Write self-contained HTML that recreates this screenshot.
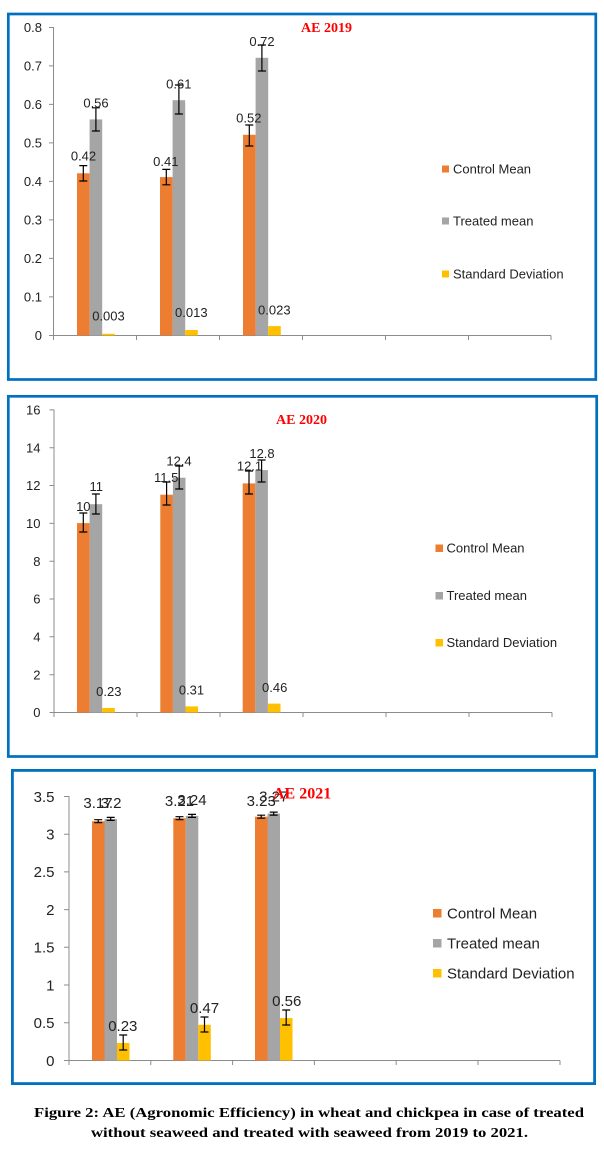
<!DOCTYPE html>
<html>
<head>
<meta charset="utf-8">
<style>
html,body{margin:0;padding:0;background:#fff;}
svg{display:block;}
.t{font-family:"Liberation Sans",sans-serif;fill:#222;}
.ttl{font-family:"Liberation Serif",serif;font-weight:bold;fill:#FF0000;}
.cap{font-family:"Liberation Serif",serif;font-weight:bold;fill:#000;font-size:14px;}
.ax{stroke:#8c8c8c;stroke-width:1;fill:none;}
.eb{stroke:#000;stroke-width:1.2;fill:none;}
</style>
</head>
<body>
<svg width="604" height="1151" viewBox="0 0 604 1151" xmlns="http://www.w3.org/2000/svg">
<rect x="0" y="0" width="604" height="1151" fill="#fff"/>

<!-- ================= CHART 1 ================= -->
<rect x="8.3" y="14" width="587.5" height="365.5" fill="none" stroke="#0070C0" stroke-width="2.7"/>
<!-- axes -->
<path class="ax" d="M53.5 27 V335.5 H551 M49 27.5 H53.5 M49 65.9 H53.5 M49 104.4 H53.5 M49 142.9 H53.5 M49 181.4 H53.5 M49 219.9 H53.5 M49 258.4 H53.5 M49 296.9 H53.5 M49 335.5 H53.5 M53.5 335.5 V340 M136.5 335.5 V340 M219.5 335.5 V340 M302.5 335.5 V340 M385.5 335.5 V340 M468.5 335.5 V340 M551 335.5 V340"/>
<g class="t" font-size="13" text-anchor="end">
<text x="42" y="32">0.8</text>
<text x="42" y="70.4">0.7</text>
<text x="42" y="108.9">0.6</text>
<text x="42" y="147.4">0.5</text>
<text x="42" y="185.9">0.4</text>
<text x="42" y="224.4">0.3</text>
<text x="42" y="262.9">0.2</text>
<text x="42" y="301.4">0.1</text>
<text x="42" y="340">0</text>
</g>
<!-- bars -->
<rect x="77" y="173.3" width="12.6" height="162.2" fill="#ED7D31"/>
<rect x="89.6" y="119.4" width="12.6" height="216.1" fill="#A5A5A5"/>
<rect x="102.2" y="333.8" width="12.6" height="1.7" fill="#FFC000"/>
<rect x="160" y="177.1" width="12.6" height="158.4" fill="#ED7D31"/>
<rect x="172.6" y="100.2" width="12.6" height="235.3" fill="#A5A5A5"/>
<rect x="185.2" y="330" width="12.6" height="5.5" fill="#FFC000"/>
<rect x="243" y="134.8" width="12.6" height="200.7" fill="#ED7D31"/>
<rect x="255.6" y="57.8" width="12.6" height="277.7" fill="#A5A5A5"/>
<rect x="268.2" y="326.1" width="12.6" height="9.4" fill="#FFC000"/>
<!-- error bars -->
<path class="eb" d="M83.3 165.6 V181 M79.3 165.6 H87.3 M79.3 181 H87.3
M95.9 107.8 V131 M91.9 107.8 H99.9 M91.9 131 H99.9
M166.3 169.4 V184.8 M162.3 169.4 H170.3 M162.3 184.8 H170.3
M178.9 85 V114 M174.9 85 H182.9 M174.9 114 H182.9
M249.3 125 V146 M245.3 125 H253.3 M245.3 146 H253.3
M261.9 45 V71 M257.9 45 H265.9 M257.9 71 H265.9"/>
<!-- data labels -->
<g class="t" font-size="13" text-anchor="middle">
<text x="83.5" y="160.5">0.42</text>
<text x="96" y="107.5">0.56</text>
<text x="108.5" y="320.5">0.003</text>
<text x="165.8" y="166.2">0.41</text>
<text x="178.8" y="88.5">0.61</text>
<text x="191.3" y="317.2">0.013</text>
<text x="248.8" y="122.5">0.52</text>
<text x="262" y="45.8">0.72</text>
<text x="274.3" y="314.5">0.023</text>
</g>
<text class="ttl" x="301" y="32" font-size="14">AE 2019</text>
<!-- legend -->
<rect x="442" y="165.5" width="7" height="7" fill="#ED7D31"/>
<rect x="442" y="217.5" width="7" height="7" fill="#A5A5A5"/>
<rect x="442" y="270.5" width="7" height="7" fill="#FFC000"/>
<g class="t" font-size="13">
<text x="453" y="173.5">Control Mean</text>
<text x="453" y="225.5">Treated mean</text>
<text x="453" y="278.5">Standard Deviation</text>
</g>

<!-- ================= CHART 2 ================= -->
<rect x="8.3" y="396.3" width="588.4" height="360.2" fill="none" stroke="#0070C0" stroke-width="2.7"/>
<path class="ax" d="M54 409.6 V712.5 H552 M49.5 409.9 H54 M49.5 447.7 H54 M49.5 485.5 H54 M49.5 523.4 H54 M49.5 561.2 H54 M49.5 599 H54 M49.5 636.8 H54 M49.5 674.7 H54 M49.5 712.5 H54 M54 712.5 V717 M137 712.5 V717 M220 712.5 V717 M303 712.5 V717 M386 712.5 V717 M469 712.5 V717 M552 712.5 V717"/>
<g class="t" font-size="13" text-anchor="end">
<text x="40.5" y="414.6">16</text>
<text x="40.5" y="452.4">14</text>
<text x="40.5" y="490.2">12</text>
<text x="40.5" y="528.1">10</text>
<text x="40.5" y="565.9">8</text>
<text x="40.5" y="603.7">6</text>
<text x="40.5" y="641.5">4</text>
<text x="40.5" y="679.4">2</text>
<text x="40.5" y="717.2">0</text>
</g>
<rect x="77" y="523.1" width="12.6" height="189.4" fill="#ED7D31"/>
<rect x="89.6" y="504.2" width="12.6" height="208.3" fill="#A5A5A5"/>
<rect x="102.2" y="708" width="12.6" height="4.5" fill="#FFC000"/>
<rect x="160.3" y="494.7" width="12.6" height="217.8" fill="#ED7D31"/>
<rect x="172.9" y="477.7" width="12.6" height="234.8" fill="#A5A5A5"/>
<rect x="185.5" y="706.4" width="12.6" height="6.1" fill="#FFC000"/>
<rect x="242.7" y="483.4" width="12.6" height="229.1" fill="#ED7D31"/>
<rect x="255.3" y="470.1" width="12.6" height="242.4" fill="#A5A5A5"/>
<rect x="267.9" y="703.6" width="12.6" height="8.9" fill="#FFC000"/>
<path class="eb" d="M83.3 513 V532 M79.3 513 H87.3 M79.3 532 H87.3
M95.9 494 V514 M91.9 494 H99.9 M91.9 514 H99.9
M166.6 482 V505 M162.6 482 H170.6 M162.6 505 H170.6
M179.2 466 V489 M175.2 466 H183.2 M175.2 489 H183.2
M249 471 V494 M245 471 H253 M245 494 H253
M261.6 460 V482 M257.6 460 H265.6 M257.6 482 H265.6"/>
<g class="t" font-size="13" text-anchor="middle">
<text x="83.3" y="511.2">10</text>
<text x="96.3" y="491.2">11</text>
<text x="108.8" y="696.2">0.23</text>
<text x="166.2" y="482.2">11.5</text>
<text x="179" y="465.5">12.4</text>
<text x="191.5" y="694.5">0.31</text>
<text x="249.5" y="470.5">12.1</text>
<text x="262" y="457.8">12.8</text>
<text x="274.7" y="691.8">0.46</text>
</g>
<text class="ttl" x="276" y="424" font-size="14">AE 2020</text>
<rect x="435.5" y="544.5" width="7.5" height="7.5" fill="#ED7D31"/>
<rect x="435.5" y="592" width="7.5" height="7.5" fill="#A5A5A5"/>
<rect x="435.5" y="639" width="7.5" height="7.5" fill="#FFC000"/>
<g class="t" font-size="13">
<text x="446.5" y="552.5">Control Mean</text>
<text x="446.5" y="600">Treated mean</text>
<text x="446.5" y="647">Standard Deviation</text>
</g>

<!-- ================= CHART 3 ================= -->
<rect x="12.4" y="770.4" width="582.2" height="313.2" fill="none" stroke="#0070C0" stroke-width="2.8"/>
<path class="ax" d="M69 796.3 V1060.5 H560 M64 796.5 H69 M64 834.2 H69 M64 871.9 H69 M64 909.6 H69 M64 947.3 H69 M64 985 H69 M64 1022.7 H69 M64 1060.5 H69 M69 1060.5 V1065 M150.8 1060.5 V1065 M232.6 1060.5 V1065 M314.4 1060.5 V1065 M396.2 1060.5 V1065 M478 1060.5 V1065 M560 1060.5 V1065"/>
<g class="t" font-size="15" text-anchor="end">
<text x="54.5" y="801.8">3.5</text>
<text x="54.5" y="839.5">3</text>
<text x="54.5" y="877.2">2.5</text>
<text x="54.5" y="914.9">2</text>
<text x="54.5" y="952.6">1.5</text>
<text x="54.5" y="990.3">1</text>
<text x="54.5" y="1028">0.5</text>
<text x="54.5" y="1065.8">0</text>
</g>
<rect x="92" y="821.2" width="12.5" height="239.3" fill="#ED7D31"/>
<rect x="104.5" y="818.9" width="12.5" height="241.6" fill="#A5A5A5"/>
<rect x="117" y="1043" width="12.5" height="17.5" fill="#FFC000"/>
<rect x="173.3" y="818.2" width="12.5" height="242.3" fill="#ED7D31"/>
<rect x="185.8" y="815.9" width="12.5" height="244.6" fill="#A5A5A5"/>
<rect x="198.3" y="1024.8" width="12.5" height="35.7" fill="#FFC000"/>
<rect x="255" y="816.7" width="12.5" height="243.8" fill="#ED7D31"/>
<rect x="267.5" y="813.6" width="12.5" height="246.9" fill="#A5A5A5"/>
<rect x="280" y="1018.1" width="12.5" height="42.4" fill="#FFC000"/>
<path class="eb" d="M98.2 819.7 V822.7 M94.2 819.7 H102.2 M94.2 822.7 H102.2
M110.7 817.4 V820.4 M106.7 817.4 H114.7 M106.7 820.4 H114.7
M123.2 1035 V1050 M119.2 1035 H127.2 M119.2 1050 H127.2
M179.5 816.7 V819.7 M175.5 816.7 H183.5 M175.5 819.7 H183.5
M192 814.4 V817.4 M188 814.4 H196 M188 817.4 H196
M204.5 1017 V1032 M200.5 1017 H208.5 M200.5 1032 H208.5
M261.2 815.2 V818.2 M257.2 815.2 H265.2 M257.2 818.2 H265.2
M273.7 812.1 V815.1 M269.7 812.1 H277.7 M269.7 815.1 H277.7
M286.2 1010 V1025 M282.2 1010 H290.2 M282.2 1025 H290.2"/>
<g class="t" font-size="15" text-anchor="middle">
<text x="98" y="808">3.17</text>
<text x="111" y="808">3.2</text>
<text x="122.8" y="1031">0.23</text>
<text x="179.5" y="806">3.21</text>
<text x="192" y="805">3.24</text>
<text x="204.5" y="1013">0.47</text>
<text x="261.2" y="806">3.23</text>
<text x="273.7" y="801.5">3.27</text>
<text x="286.7" y="1006">0.56</text>
</g>
<text class="ttl" x="273" y="798.5" font-size="16">AE 2021</text>
<rect x="433" y="909" width="8.5" height="8.5" fill="#ED7D31"/>
<rect x="433" y="939" width="8.5" height="8.5" fill="#A5A5A5"/>
<rect x="433" y="969" width="8.5" height="8.5" fill="#FFC000"/>
<g class="t" font-size="15">
<text x="447" y="918.5">Control Mean</text>
<text x="447" y="948.5">Treated mean</text>
<text x="447" y="978.5">Standard Deviation</text>
</g>

<!-- caption -->
<text class="cap" x="34" y="1117" textLength="550" lengthAdjust="spacingAndGlyphs">Figure 2: AE (Agronomic Efficiency) in wheat and chickpea in case of treated</text>
<text class="cap" x="91" y="1137" textLength="437" lengthAdjust="spacingAndGlyphs">without seaweed and treated with seaweed from 2019 to 2021.</text>
</svg>
</body>
</html>
